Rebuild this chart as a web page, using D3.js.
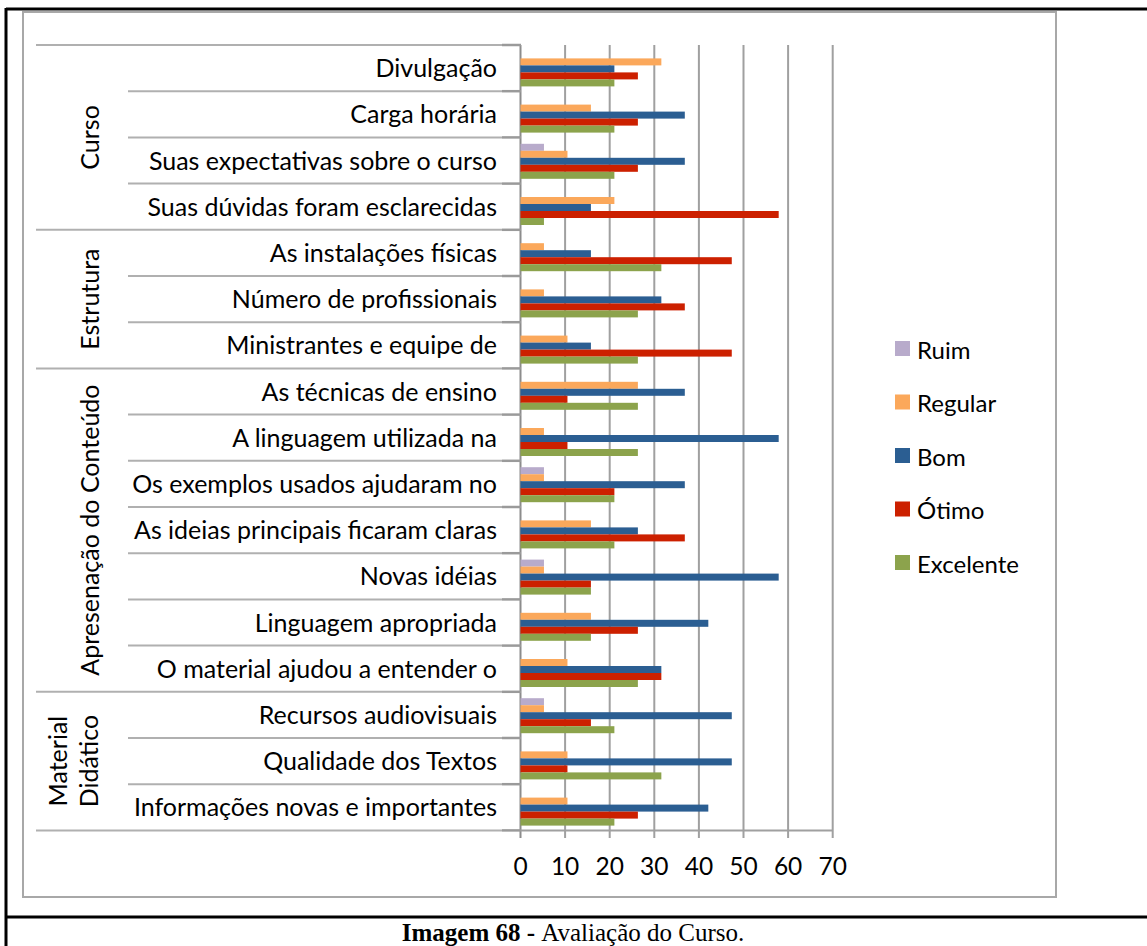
<!DOCTYPE html>
<html>
<head>
<meta charset="utf-8">
<script src="https://cdn.jsdelivr.net/npm/d3@7"></script>
<style>
  html, body { margin: 0; padding: 0; background: #fff; }
  svg { display: block; }
</style>
</head>
<body>
<svg id="chart" width="1147" height="946"></svg>
<script>
const categories = [
  "Divulgação",
  "Carga horária",
  "Suas expectativas sobre o curso",
  "Suas dúvidas foram esclarecidas",
  "As instalações físicas",
  "Número de profissionais",
  "Ministrantes e equipe de",
  "As técnicas de ensino",
  "A linguagem utilizada na",
  "Os exemplos usados ajudaram no",
  "As ideias principais ficaram claras",
  "Novas idéias",
  "Linguagem apropriada",
  "O material ajudou a entender o",
  "Recursos audiovisuais",
  "Qualidade dos Textos",
  "Informações novas e importantes"
];
const groupNames = ["Curso", "Estrutura", "Apresenação do Conteúdo", "Material|Didático"];
const groupSizes = [4, 3, 7, 3];
const seriesNames = ["Ruim", "Regular", "Bom", "Ótimo", "Excelente"];
const ruim      = [0, 0, 5.26, 0, 0, 0, 0, 0, 0, 5.26, 0, 5.26, 0, 0, 5.26, 0, 0];
const regular   = [31.58, 15.79, 10.53, 21.05, 5.26, 5.26, 10.53, 26.32, 5.26, 5.26, 15.79, 5.26, 15.79, 10.53, 5.26, 10.53, 10.53];
const bom       = [21.05, 36.84, 36.84, 15.79, 15.79, 31.58, 15.79, 36.84, 57.89, 36.84, 26.32, 57.89, 42.11, 31.58, 47.37, 47.37, 42.11];
const otimo     = [26.32, 26.32, 26.32, 57.89, 47.37, 36.84, 47.37, 10.53, 10.53, 21.05, 36.84, 15.79, 26.32, 31.58, 15.79, 10.53, 26.32];
const excelente = [21.05, 21.05, 21.05, 5.26, 31.58, 26.32, 26.32, 26.32, 26.32, 21.05, 21.05, 15.79, 15.79, 26.32, 21.05, 31.58, 21.05];
const xTicks = [0, 10, 20, 30, 40, 50, 60, 70];
const seriesColors = ["#b8abcb", "#fba85b", "#2b5e92", "#cc2000", "#8ca34c"];

const seriesValues = [ruim, regular, bom, otimo, excelente];

const svg = d3.select("#chart");
const FONT = "Lato, 'Open Sans', sans-serif";
const FS = 25;

// outer document borders
svg.append("line").attr("x1", 6).attr("x2", 1147).attr("y1", 9).attr("y2", 9)
  .attr("stroke", "#000").attr("stroke-width", 3);
svg.append("line").attr("x1", 6).attr("x2", 6).attr("y1", 8).attr("y2", 946)
  .attr("stroke", "#000").attr("stroke-width", 3);
svg.append("line").attr("x1", 6).attr("x2", 1147).attr("y1", 917).attr("y2", 917)
  .attr("stroke", "#000").attr("stroke-width", 3);

// chart frame
svg.append("rect").attr("x", 23).attr("y", 12).attr("width", 1033).attr("height", 885)
  .attr("fill", "none").attr("stroke", "#a8a8a8").attr("stroke-width", 2);

// scales
const x = d3.scaleLinear().domain([0, 70]).range([520.5, 832.7]);
const y0 = d3.scaleBand().domain(categories).range([45, 830.4]).padding(0);
const y1 = d3.scaleBand().domain(seriesNames).range([6.4, 41.4]).padding(0);

// vertical gridlines
svg.append("g").selectAll("line").data(xTicks).join("line")
  .attr("x1", d => x(d)).attr("x2", d => x(d))
  .attr("y1", 45).attr("y2", 838)
  .attr("stroke", d => d === 0 ? "#8c8c8c" : "#a0a0a0")
  .attr("stroke-width", 2);

// bottom axis line
svg.append("line").attr("x1", x(0)).attr("x2", x(70)).attr("y1", 830.4).attr("y2", 830.4)
  .attr("stroke", "#a0a0a0").attr("stroke-width", 2);

// tick labels
svg.append("g").selectAll("text").data(xTicks).join("text")
  .attr("x", d => x(d)).attr("y", 875)
  .attr("text-anchor", "middle")
  .attr("font-family", FONT).attr("font-size", 24.5).attr("fill", "#000")
  .text(d => d);

// category separators (level 1) and ticks
const boundaries = d3.range(categories.length + 1).map(i => 45 + i * y0.bandwidth());
svg.append("g").selectAll("line").data(boundaries).join("line")
  .attr("x1", 128).attr("x2", 502).attr("y1", d => d).attr("y2", d => d)
  .attr("stroke", "#b0b0b0").attr("stroke-width", 2);
svg.append("g").selectAll("line").data(boundaries).join("line")
  .attr("x1", 502).attr("x2", 521).attr("y1", d => d).attr("y2", d => d)
  .attr("stroke", "#9a9a9a").attr("stroke-width", 2.5);

// group separators
let acc = 0;
const groupBounds = [0];
groupSizes.forEach(s => { acc += s; groupBounds.push(acc); });
svg.append("g").selectAll("line").data(groupBounds).join("line")
  .attr("x1", 36).attr("x2", 128)
  .attr("y1", d => 45 + d * y0.bandwidth()).attr("y2", d => 45 + d * y0.bandwidth())
  .attr("stroke", "#b0b0b0").attr("stroke-width", 2);

// category labels
svg.append("g").selectAll("text").data(categories).join("text")
  .attr("x", 497).attr("y", d => y0(d) + y0.bandwidth() / 2)
  .attr("dy", "0.36em")
  .attr("text-anchor", "end")
  .attr("font-family", FONT).attr("font-size", FS).attr("fill", "#000")
  .text(d => d);

// group labels
groupNames.forEach((g, i) => {
  const yc = 45 + (groupBounds[i] + groupBounds[i + 1]) / 2 * y0.bandwidth();
  const lines = g.split("|");
  lines.forEach((ln, j) => {
    const xc = lines.length === 1 ? 90 : (j === 0 ? 58 : 89);
    svg.append("text")
      .attr("transform", `translate(${xc},${yc}) rotate(-90)`)
      .attr("text-anchor", "middle").attr("dy", "0.36em")
      .attr("font-family", FONT).attr("font-size", FS).attr("fill", "#000")
      .text(ln);
  });
});

// bars
const barData = [];
categories.forEach((c, i) => {
  seriesNames.forEach((s, k) => {
    barData.push({ cat: c, series: s, value: seriesValues[k][i], color: seriesColors[k] });
  });
});
svg.append("g").selectAll("rect").data(barData.filter(d => d.value > 0)).join("rect")
  .attr("x", x(0))
  .attr("y", d => y0(d.cat) + y1(d.series))
  .attr("width", d => x(d.value) - x(0))
  .attr("height", y1.bandwidth())
  .attr("fill", d => d.color);

// legend
const legendY = [350, 403.5, 457, 510.5, 564];
const lg = svg.append("g");
seriesNames.forEach((s, k) => {
  lg.append("rect").attr("x", 895).attr("y", legendY[k] - 9).attr("width", 15).attr("height", 15)
    .attr("fill", seriesColors[k]);
  lg.append("text").attr("x", 917).attr("y", legendY[k]).attr("dy", "0.36em")
    .attr("font-family", FONT).attr("font-size", 24).attr("fill", "#000")
    .text(s);
});

// caption
const cap = svg.append("text").attr("x", 573).attr("y", 941)
  .attr("text-anchor", "middle")
  .attr("font-family", "'Liberation Serif', 'Times New Roman', serif").attr("font-size", 25)
  .attr("fill", "#000");
cap.append("tspan").attr("font-weight", "bold").text("Imagem 68 - ");
cap.append("tspan").text("Avaliação do Curso.");
</script>
</body>
</html>
